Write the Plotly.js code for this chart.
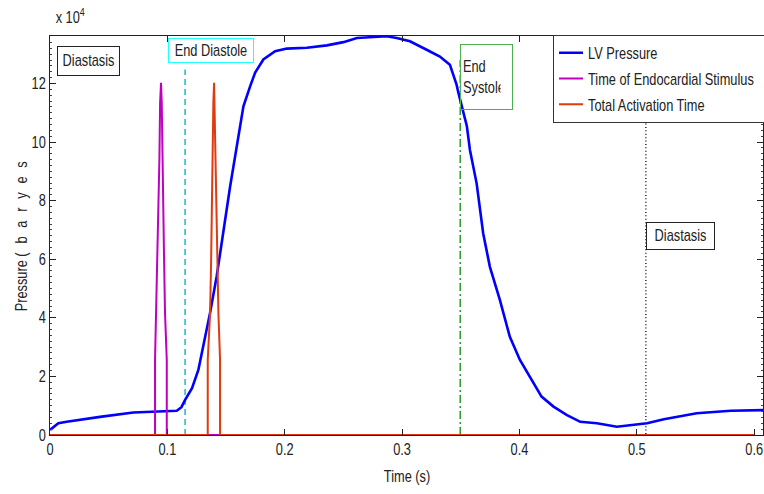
<!DOCTYPE html>
<html>
<head>
<meta charset="utf-8">
<script src="https://cdn.plot.ly/plotly-3.0.1.min.js"></script>
<style>
html,body{margin:0;padding:0;background:#fff;}
#chart{width:764px;height:494px;}
</style>
</head>
<body>
<div id="chart"></div>
<script>
// LV pressure curve (time in s, pressure in baryes)
const lvTime = [0, 0.0071, 0.0142, 0.0284, 0.0426, 0.071, 0.0994, 0.108, 0.112, 0.115, 0.121, 0.1264, 0.1364, 0.142, 0.1535, 0.1605, 0.1648, 0.1705, 0.1748, 0.1818, 0.1918, 0.2018, 0.2188, 0.2359, 0.25, 0.2615, 0.2755, 0.2869, 0.2954, 0.3067, 0.3209, 0.3322, 0.3407, 0.3464, 0.348, 0.3552, 0.3578, 0.3635, 0.3691, 0.3748, 0.3833, 0.3918, 0.4004, 0.4089, 0.4188, 0.429, 0.4405, 0.4518, 0.466, 0.483, 0.497, 0.5087, 0.523, 0.551, 0.58, 0.6075];
const lvPressure = [1700, 4000, 4500, 5400, 6200, 7700, 8200, 8300, 9500, 11900, 16000, 22200, 41700, 54100, 84900, 101400, 112200, 119000, 123700, 128200, 131000, 131900, 132200, 133000, 134100, 135500, 135700, 136100, 135500, 134400, 131500, 129200, 126400, 119600, 116800, 105400, 97300, 85900, 68800, 57400, 46100, 33500, 25600, 19900, 13100, 9700, 6800, 4500, 4000, 2800, 3400, 4000, 5400, 7400, 8300, 8500];

// Time of endocardial stimulus (spike)
const stimTime = [0, 0.0895, 0.0895, 0.0904, 0.0915, 0.0924, 0.0932, 0.0938, 0.0946, 0.0952, 0.0957, 0.0966, 0.0972, 0.098, 0.0995, 0.0995, 0.6];
const stimValue = [0, 0, 25600, 41600, 59800, 76900, 94000, 113500, 120200, 113500, 94000, 76900, 59800, 41600, 25600, 0, 0];

// Total activation time (spike)
const actTime = [0, 0.1344, 0.1344, 0.1364, 0.1373, 0.1378, 0.1387, 0.1392, 0.1398, 0.1401, 0.1407, 0.1415, 0.1426, 0.1435, 0.1449, 0.1449, 0.6];
const actValue = [0, 0, 25600, 41600, 59800, 76900, 94000, 113500, 120200, 113500, 94000, 76900, 59800, 41600, 25600, 0, 0];

// Event markers
const endDiastoleTime = 0.1151;
const endSystoleTime = 0.3495;
const diastasisTime = 0.5077;

const yTickVals = [0, 20000, 40000, 60000, 80000, 100000, 120000];
const yTickText = ['0', '2', '4', '6', '8', '10', '12'];
const xTickVals = [0, 0.1, 0.2, 0.3, 0.4, 0.5, 0.6];
const xTickText = ['0', '0.1', '0.2', '0.3', '0.4', '0.5', '0.6'];

const FONT = '"Liberation Sans", Arial, Helvetica, sans-serif';
const TXT = '#222';
const yMax = 136200;

const traces = [
  {x: [endDiastoleTime, endDiastoleTime], y: [0, 124800], mode: 'lines', showlegend: false, hoverinfo: 'skip',
   line: {color: '#1cb8c4', width: 1.5, dash: '6px,4px'}},
  {x: [endSystoleTime, endSystoleTime], y: [0, 128000], mode: 'lines', showlegend: false, hoverinfo: 'skip',
   line: {color: '#0a8a0a', width: 1.3, dash: '8px,3px,2px,3px'}},
  {x: [diastasisTime, diastasisTime], y: [-800, yMax], mode: 'lines', showlegend: false, hoverinfo: 'skip',
   line: {color: '#000', width: 1.3, dash: '1px,2.4px'}},
  {x: lvTime, y: lvPressure, mode: 'lines', name: 'LV Pressure', legendgroup: 'a',
   line: {color: '#0000ff', width: 2.6}},
  {x: stimTime, y: stimValue, mode: 'lines', name: 'Time of Endocardial Stimulus', legendgroup: 'b',
   line: {color: '#c000c0', width: 2}},
  {x: actTime, y: actValue, mode: 'lines', name: 'Total Activation Time', legendgroup: 'c',
   line: {color: '#e03a10', width: 2}}
];

const f16 = {family: FONT, size: 16, color: TXT};
const layout = {
  width: 764, height: 494,
  margin: {l: 50, r: 1, t: 36, b: 59, autoexpand: false},
  paper_bgcolor: '#fff', plot_bgcolor: '#fff',
  font: f16,
  showlegend: true,
  legend: {x: 0.7055, y: 1.003, xanchor: 'left', yanchor: 'top', bgcolor: '#fff', bordercolor: '#333', borderwidth: 1,
           font: f16, traceorder: 'grouped', tracegroupgap: 2},
  xaxis: {range: [0, 0.6075], tickvals: xTickVals, ticktext: xTickText, ticks: 'inside', ticklen: 6, tickcolor: '#222',
          showline: true, linecolor: '#222', linewidth: 1, mirror: 'ticks', showgrid: false, zeroline: false,
          automargin: false, ticklabeloverflow: 'allow', tickfont: f16},
  yaxis: {range: [0, yMax], tickvals: yTickVals, ticktext: yTickText, ticks: 'inside', ticklen: 6, tickcolor: '#222',
          showline: true, linecolor: '#222', linewidth: 1, mirror: 'ticks', showgrid: false, zeroline: false,
          automargin: false, ticklabeloverflow: 'allow',
          minor: {dtick: 2000, ticks: 'inside', ticklen: 2, tickcolor: '#444', showgrid: false},
          tickfont: f16},
  annotations: [
    {xref: 'paper', yref: 'paper', x: 0.5, y: 0, xanchor: 'center', yanchor: 'top', yshift: -31, showarrow: false,
     text: 'Time (s)', font: f16},
    {xref: 'paper', yref: 'paper', x: 0, y: 0.508, xanchor: 'center', yanchor: 'middle', xshift: -29, textangle: -90, showarrow: false,
     text: 'Pressure <span style="letter-spacing:11px">(baryes</span>', font: f16},
    {xref: 'paper', yref: 'paper', x: 0, y: 1, xanchor: 'left', yanchor: 'bottom', yshift: 8, showarrow: false,
     text: 'x 10<sup>4</sup>', font: f16},
    {xref: 'x', yref: 'y', x: 0.006, y: 132800, xanchor: 'left', yanchor: 'top', showarrow: false,
     text: 'Diastasis', font: f16, bordercolor: '#222', borderwidth: 1, borderpad: 0, width: 61, height: 28, bgcolor: 'rgba(255,255,255,0)'},
    {xref: 'x', yref: 'y', x: 0.1005, y: 135500, xanchor: 'left', yanchor: 'top', showarrow: false,
     text: 'End Diastole', font: f16, bordercolor: '#22ffff', borderwidth: 1, borderpad: 0, width: 84, height: 23, bgcolor: 'rgba(255,255,255,0)'},
    {xref: 'x', yref: 'y', x: 0.3493, y: 133400, xanchor: 'left', yanchor: 'top', showarrow: false,
     text: 'End<br>Systole', align: 'left', valign: 'middle', width: 47, height: 60,
     font: f16, bordercolor: '#4caf50', borderwidth: 1, borderpad: 2, bgcolor: 'rgba(255,255,255,0)'},
    {xref: 'x', yref: 'y', x: 0.5077, y: 72700, xanchor: 'left', yanchor: 'top', showarrow: false,
     text: 'Diastasis', font: f16, bordercolor: '#222', borderwidth: 1, borderpad: 0, width: 67, height: 26, bgcolor: 'rgba(255,255,255,0)'}
  ]
};

// MATLAB-style narrow lettering: squeeze each text horizontally about its own anchor
function narrowTexts(gd, s) {
  gd.querySelectorAll('svg text').forEach(function (el) {
    if (!el.textContent) return;
    var ax = parseFloat(el.getAttribute('x')) || 0;
    var t = el.getAttribute('transform') || '';
    var extra = '';
    if (el.closest('.legend')) extra = ' translate(-6,0)';
    el.setAttribute('transform', t + extra + ' translate(' + ax + ',0) scale(' + s + ',1) translate(' + (-ax) + ',0)');
  });
  // shorter legend line samples, as in the original
  gd.querySelectorAll('.legend .legendlines path').forEach(function (p) { p.setAttribute('d', 'M5,0h24'); });
  // the squeezed labels fit their boxes, so drop the box clipping (except End Systole, clipped in the original too)
  gd.querySelectorAll('.annotation').forEach(function (g) {
    if (g.textContent.indexOf('Systole') >= 0) return;
    g.querySelectorAll('[clip-path]').forEach(function (c) { c.removeAttribute('clip-path'); });
  });
}

Plotly.newPlot('chart', traces, layout, {staticPlot: true, displayModeBar: false}).then(function (gd) {
  narrowTexts(gd, 0.8);
});
</script>
</body>
</html>
